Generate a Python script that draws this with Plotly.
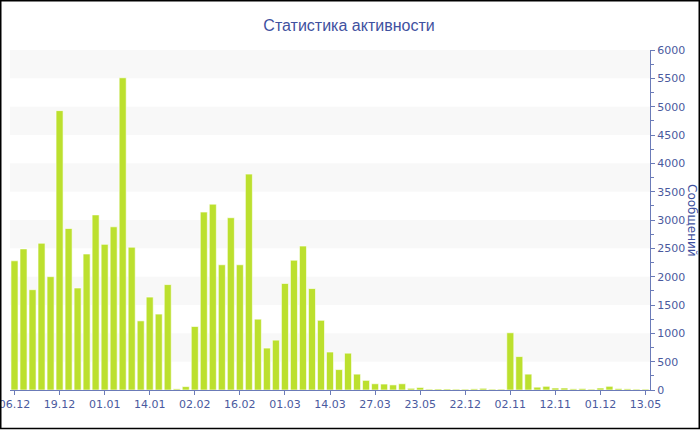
import plotly.graph_objects as go

# --- data ---
categories = list(range(71))
values = [2280, 2490, 1770, 2590, 2000, 4930, 2850, 1800, 2400, 3090,
          2570, 2880, 5510, 2520, 1220, 1640, 1340, 1860, 20, 60,
          1120, 3140, 3280, 2210, 3040, 2210, 3810, 1250, 740, 880,
          1880, 2290, 2540, 1790, 1230, 670, 360, 650, 280, 170,
          110, 105, 90, 110, 30, 45, 15, 18, 18, 15,
          15, 20, 30, 15, 15, 1010, 590, 280, 50, 65,
          35, 35, 20, 25, 15, 35, 65, 25, 20, 15, 15]
tick_positions = [0, 5, 10, 15, 20, 25, 30, 35, 40, 45, 50, 55, 60, 65, 70]
tick_labels = ["06.12", "19.12", "01.01", "14.01", "02.02", "16.02", "01.03",
               "14.03", "27.03", "23.05", "22.12", "02.11", "12.11", "01.12", "13.05"]
band_starts = [500, 1500, 2500, 3500, 4500, 5500]
title_text = "Статистика активности"
y_title = "Сообщений"

W, H = 700, 430
ML, MR, MT, MB = 10, 50, 50, 40
AX = "#6b7bb8"
TXT = "#4a5a9e"

fig = go.Figure()
fig.add_trace(go.Bar(
    x=categories, y=values,
    marker=dict(color="#bce02e", line=dict(color="rgba(255,255,255,0.6)", width=1)),
    hoverinfo="y", showlegend=False,
))

shapes = []
for b in band_starts:
    shapes.append(dict(type="rect", xref="paper", yref="y", x0=0, x1=1, y0=b, y1=b + 500,
                       fillcolor="#f8f8f8", line=dict(width=0), layer="below"))
# outer frame of the image
pw = W - ML - MR
ph = H - MT - MB
shapes.append(dict(type="rect", xref="paper", yref="paper",
                   x0=(0.75 - ML) / pw, x1=(W - 0.75 - ML) / pw,
                   y0=-(MB - 1.5) / ph, y1=1 + (MT - 0.75) / ph,
                   line=dict(color="black", width=1.5), fillcolor="rgba(0,0,0,0)", layer="above"))

fig.update_layout(
    width=W, height=H,
    margin=dict(l=ML, r=MR, t=MT, b=MB, autoexpand=False),
    paper_bgcolor="white", plot_bgcolor="white",
    bargap=0.22,
    shapes=shapes,
    title=dict(text=title_text, x=349 / W, xref="container", xanchor="center",
               y=1 - 25 / H, yref="container", yanchor="middle",
               font=dict(family="Liberation Sans, Arial, sans-serif", size=16, color="#3f51a0")),
    font=dict(family="DejaVu Sans, Verdana, sans-serif", size=11, color=TXT),
    xaxis=dict(range=[-0.5, 70.5], tickmode="array", tickvals=tick_positions, ticktext=tick_labels,
               showgrid=False, zeroline=False, showline=True, linecolor=AX, linewidth=1,
               ticks="outside", ticklen=4, tickcolor=AX, automargin=False,
               ticklabeloverflow="allow",
               tickfont=dict(size=11, color=TXT), fixedrange=True),
    yaxis=dict(range=[0, 6000], side="right", dtick=500, tick0=0,
               showgrid=False, zeroline=False, showline=True, linecolor=AX, linewidth=1,
               ticks="outside", ticklen=4, tickcolor=AX, automargin=False,
               ticklabeloverflow="allow",
               minor=dict(dtick=250, ticks="outside", ticklen=3, tickcolor=AX, showgrid=False),
               tickfont=dict(size=11, color=TXT), fixedrange=True),
    annotations=[dict(text=y_title, xref="paper", yref="paper",
                      x=(692 - ML) / pw, y=0.5, textangle=90, showarrow=False,
                      xanchor="center", yanchor="middle",
                      font=dict(family="DejaVu Sans, Verdana, sans-serif", size=12, color="#3f51a0"))],
)

fig.write_html("out.html", config={"displayModeBar": False},
               post_script="document.body.style.margin='0';")
